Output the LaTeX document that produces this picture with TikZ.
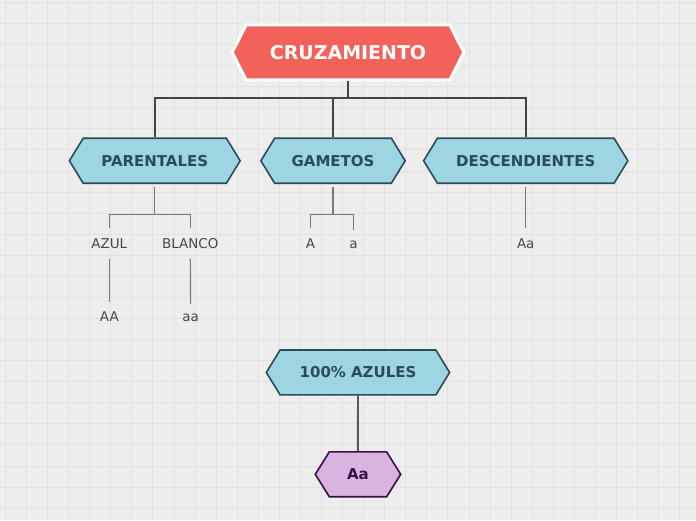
\documentclass[tikz,border=0pt]{standalone}
\usepackage{fontspec}
\setmainfont{DejaVu Sans}
\usepackage{tikz}
\usetikzlibrary{shapes.symbols}
\definecolor{bggray}{HTML}{EDEDED}
\definecolor{gridgray}{HTML}{E1E1E1}
\definecolor{cruzred}{HTML}{F3625A}
\definecolor{hexblue}{HTML}{9DD5E2}
\definecolor{hexdark}{HTML}{2B4A5A}
\definecolor{hexpurple}{HTML}{DAB4E1}
\definecolor{purpledark}{HTML}{3A0E47}
\definecolor{linegray}{HTML}{454545}
\definecolor{subgray}{HTML}{7A7A7A}
\definecolor{labelgray}{HTML}{474747}

\begin{document}
\begin{tikzpicture}[x=1pt, y=-1pt,
    hexbox/.style={signal, signal to=west and east, signal pointer angle=117, draw=hexdark, line width=1.6pt,
        fill=hexblue, text=hexdark, inner sep=0pt, minimum height=45pt, font=\bfseries\fontsize{15}{17}\selectfont},
    leaf/.style={anchor=base, inner xsep=2pt, inner ysep=10pt, text=labelgray, font=\fontsize{13.5}{15}\selectfont},
    mainline/.style={draw=linegray, line width=2pt},
    subline/.style={draw=subgray, line width=1.2pt}]
    % Background and grid
    \fill[bggray] (0,0) rectangle (696,520);
    \foreach \gx in {0,...,32} \draw[gridgray, line width=1pt] ({5+21.1*\gx},0) -- ({5+21.1*\gx},520);
    \foreach \gy in {0,...,24} \draw[gridgray, line width=1pt] (0,{2+21.1*\gy}) -- (696,{2+21.1*\gy});
    \useasboundingbox (0,0) rectangle (696,520);

    % Main topic
    \node[signal, signal to=west and east, signal pointer angle=126, draw=white, line width=3pt, fill=cruzred,
        text=white, inner sep=0pt, minimum width=232pt, minimum height=55pt,
        font=\bfseries\fontsize{19}{21}\selectfont] (cruz) at (348,52) {CRUZAMIENTO};

    % Subtopics
    \node[hexbox, minimum width=171pt] (parent) at (154.5,160.5) {PARENTALES};
    \node[hexbox, minimum width=144.5pt] (gamet) at (333,160.5) {GAMETOS};
    \node[hexbox, minimum width=204.5pt] (desc) at (526,160.5) {DESCENDIENTES};

    % Bus from main topic
    \coordinate (bus) at (348,98);
    \draw[mainline] (cruz.south) -- (bus);
    \draw[mainline] (bus) -| (parent.north);
    \draw[mainline] (bus) -| (gamet.north);
    \draw[mainline] (bus) -| (desc.north);

    % Parentales
    \node[leaf] (azul) at (109,248) {AZUL};
    \node[leaf] (blanco) at (190,248) {BLANCO};
    \node[leaf] (AA) at (109,321.5) {AA};
    \node[leaf] (aa) at (190.5,321.5) {aa};
    \coordinate (pj) at (154.5,214);
    \draw[subline, shorten <=3pt] (parent.south) -- (pj);
    \draw[subline] (pj) -| (azul.north);
    \draw[subline] (pj) -| (blanco.north);
    \draw[subline] (azul) -- (AA);
    \draw[subline] (blanco) -- (aa);

    % Gametos
    \node[leaf] (gA) at (310.5,248) {A};
    \node[leaf] (ga) at (353.5,248) {a};
    \coordinate (gj) at (333,214);
    \draw[subline, shorten <=3pt] (gamet.south) -- (gj);
    \draw[subline] (gj) -| (gA.north);
    \draw[subline] (gj) -| (ga.north);

    % Descendientes
    \node[leaf] (dAa) at (526,248) {Aa};
    \draw[subline, shorten <=3pt] (desc.south) -- (dAa.north);

    % Result
    \node[hexbox, minimum width=183.5pt] (azules) at (358,372.5) {100\% AZULES};
    \node[hexbox, minimum width=85.5pt, signal pointer angle=116, draw=purpledark, fill=hexpurple,
        text=purpledark] (resAa) at (358,474.5) {Aa};
    \draw[mainline, draw=linegray!90] (azules) -- (resAa);
\end{tikzpicture}
\end{document}
